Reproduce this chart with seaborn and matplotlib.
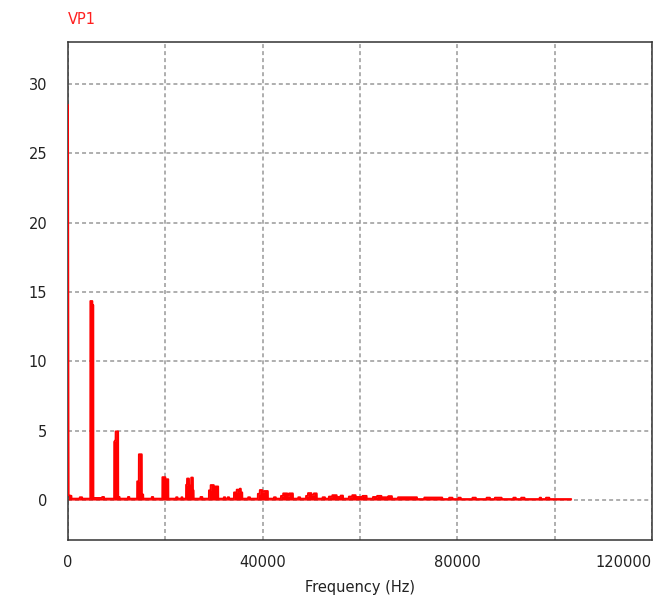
import matplotlib
matplotlib.use("Agg")
import matplotlib.pyplot as plt
import seaborn as sns
import pandas as pd

# Spectrum trace of VP1: vertices (Hz, magnitude) of the stepped FFT curve
freq_hz = [
    0, 120, 700, 720, 2400, 2420, 2900, 2920, 4580,
    # 5 kHz
    4600, 5000, 5020, 5200, 5220, 7000, 7020, 7400, 7420, 9480,
    # 10 kHz
    9500, 9780, 9800, 10300, 10320, 10600, 10620, 12300, 12320, 12600, 12620, 14200,
    # 15 kHz
    14220, 14550, 14570, 15150, 15170, 15450, 15470, 17200, 17220, 17500, 17520, 19380,
    # 20 kHz
    19400, 20000, 20020, 20600, 20620, 22200, 22220, 22500, 22520, 23300, 23320, 23500, 23520, 24250,
    # 25 kHz
    24270, 24450, 24470, 24850, 24870, 25300, 25320, 25650, 25670, 25800, 25820, 27200, 27220, 27600, 27620, 28950,
    # 30 kHz
    28970, 29300, 29320, 29950, 29970, 30250, 30270, 30850, 30870, 32000, 32020, 32300, 32320, 32800, 32820, 33100, 33120, 34100,
    # 35 kHz
    34120, 34650, 34670, 35100, 35120, 35300, 35320, 35500, 35520, 35800, 35820, 37000, 37020, 37400, 37420, 39000,
    # 40 kHz
    39020, 39400, 39420, 39900, 39920, 40300, 40320, 41050, 41070, 42300, 42320, 42700, 42720, 43750,
    # 45 kHz
    43770, 44200, 44220, 45050, 45070, 45400, 45420, 46200, 46220, 47300, 47320, 47700, 47720, 48900,
    # 50 kHz
    48920, 49300, 49320, 50000, 50020, 50500, 50520, 51100, 51120, 52300, 52320, 52800, 52820, 53600,
    # 55 kHz
    53620, 54300, 54320, 55200, 55220, 56000, 56020, 56500, 56520, 57700,
    # 60 kHz
    57720, 58400, 58420, 59100, 59120, 60500, 60520, 61350, 61370, 62650,
    # 65 kHz
    62670, 63500, 63520, 64400, 64420, 65800, 65820, 66550, 66570, 67800,
    # 70 kHz and above
    67820, 71700, 71720, 73200, 73220, 76900, 76920, 78300, 78320, 79000, 79020,
    80200, 80220, 80700, 80720, 83100, 83120, 83800, 83820, 86000, 86020, 86700, 86720,
    87700, 87720, 89100, 89120, 91500, 91520, 92000, 92020, 93100, 93120, 93800, 93820,
    96900, 96920, 97200, 97220, 98200, 98220, 98900, 98920, 103400,
]

vp1_mag = [
    28.5, 0.35, 0.3, 0.1, 0.1, 0.2, 0.2, 0.1, 0.1,
    # 5 kHz
    14.35, 14.35, 14.05, 14.05, 0.15, 0.15, 0.22, 0.22, 0.1, 0.1,
    # 10 kHz
    4.2, 4.35, 4.95, 4.95, 0.22, 0.22, 0.1, 0.1, 0.22, 0.22, 0.1, 0.1,
    # 15 kHz
    1.35, 1.35, 3.3, 3.3, 0.4, 0.4, 0.1, 0.1, 0.22, 0.22, 0.1, 0.1,
    # 20 kHz
    1.65, 1.65, 1.5, 1.5, 0.1, 0.1, 0.2, 0.2, 0.1, 0.1, 0.2, 0.2, 0.1, 0.1,
    # 25 kHz
    1.1, 1.1, 1.55, 1.55, 1.05, 1.05, 1.62, 1.62, 0.7, 0.7, 0.1, 0.1, 0.22, 0.22, 0.1, 0.1,
    # 30 kHz
    0.7, 0.7, 1.08, 1.08, 0.85, 0.85, 0.98, 0.98, 0.1, 0.1, 0.2, 0.2, 0.1, 0.1, 0.2, 0.2, 0.1, 0.1,
    # 35 kHz
    0.55, 0.55, 0.75, 0.75, 0.6, 0.6, 0.82, 0.82, 0.55, 0.55, 0.1, 0.1, 0.2, 0.2, 0.1, 0.1,
    # 40 kHz
    0.45, 0.45, 0.72, 0.72, 0.6, 0.6, 0.65, 0.65, 0.1, 0.1, 0.2, 0.2, 0.1, 0.1,
    # 45 kHz
    0.3, 0.3, 0.48, 0.48, 0.3, 0.3, 0.48, 0.48, 0.1, 0.1, 0.2, 0.2, 0.1, 0.1,
    # 50 kHz
    0.3, 0.3, 0.5, 0.5, 0.38, 0.38, 0.48, 0.48, 0.1, 0.1, 0.2, 0.2, 0.1, 0.1,
    # 55 kHz
    0.25, 0.25, 0.35, 0.35, 0.22, 0.22, 0.32, 0.32, 0.1, 0.1,
    # 60 kHz
    0.25, 0.25, 0.35, 0.35, 0.22, 0.22, 0.3, 0.3, 0.1, 0.1,
    # 65 kHz
    0.22, 0.22, 0.3, 0.3, 0.2, 0.2, 0.28, 0.28, 0.1, 0.1,
    # 70 kHz and above
    0.2, 0.2, 0.07, 0.07, 0.18, 0.18, 0.07, 0.07, 0.17, 0.17, 0.07,
    0.07, 0.17, 0.17, 0.07, 0.07, 0.17, 0.17, 0.07, 0.07, 0.17, 0.17, 0.07,
    0.07, 0.17, 0.17, 0.07, 0.07, 0.17, 0.17, 0.07, 0.07, 0.17, 0.17, 0.07,
    0.07, 0.17, 0.17, 0.07, 0.07, 0.17, 0.17, 0.07, 0.07,
]

x_ticks = [0, 20000, 40000, 60000, 80000, 100000, 120000]
x_tick_labels = ["0", "", "40000", "", "80000", "", "120000"]
y_ticks = [0, 5, 10, 15, 20, 25, 30]
y_tick_labels = ["0", "5", "10", "15", "20", "25", "30"]

trace_name = "VP1"
x_label = "Frequency (Hz)"

df = pd.DataFrame({"freq": freq_hz, "mag": vp1_mag})

sns.set_theme(style="white")
plt.rcParams["font.family"] = ["DejaVu Sans"]

fig = plt.figure(figsize=(6.55, 6.0), dpi=100)
ax = fig.add_axes([68 / 655, 1 - 540 / 600, (652 - 68) / 655, (540 - 42) / 600])

trace_red = "#ff0000"
# solid area under the trace, then the trace itself on top
ax.fill_between(df["freq"], 0, df["mag"], color=trace_red, linewidth=0, zorder=2)
sns.lineplot(data=df, x="freq", y="mag", sort=False, estimator=None,
             color=trace_red, linewidth=1.4, ax=ax, zorder=3)

ax.set_xlim(0, 120000)
ax.set_ylim(-2.88, 33.03)
ax.set_xticks(x_ticks)
ax.set_xticklabels(x_tick_labels)
ax.set_yticks(y_ticks)
ax.set_yticklabels(y_tick_labels)
ax.tick_params(axis="both", length=0, labelsize=10.5, labelcolor="#222222")
ax.tick_params(axis="x", pad=11)
ax.tick_params(axis="y", pad=15)
# keep the last frequency label inside the figure
ax.get_xticklabels()[-1].set_horizontalalignment("right")

ax.grid(True, color="#999999", linewidth=1.1, linestyle=(0, (2.6, 2.0)), zorder=1)
ax.set_axisbelow(True)

for s in ax.spines.values():
    s.set_visible(True)
    s.set_color("#333333")
    s.set_linewidth(1.1)

ax.set_xlabel(x_label, fontsize=10.5, color="#222222", labelpad=7)
ax.set_ylabel("")

fig.text(68 / 655, 1 - 19 / 600, trace_name, color="#ff2020", fontsize=10.5,
         ha="left", va="center")

fig.savefig("out.png", dpi=100)
